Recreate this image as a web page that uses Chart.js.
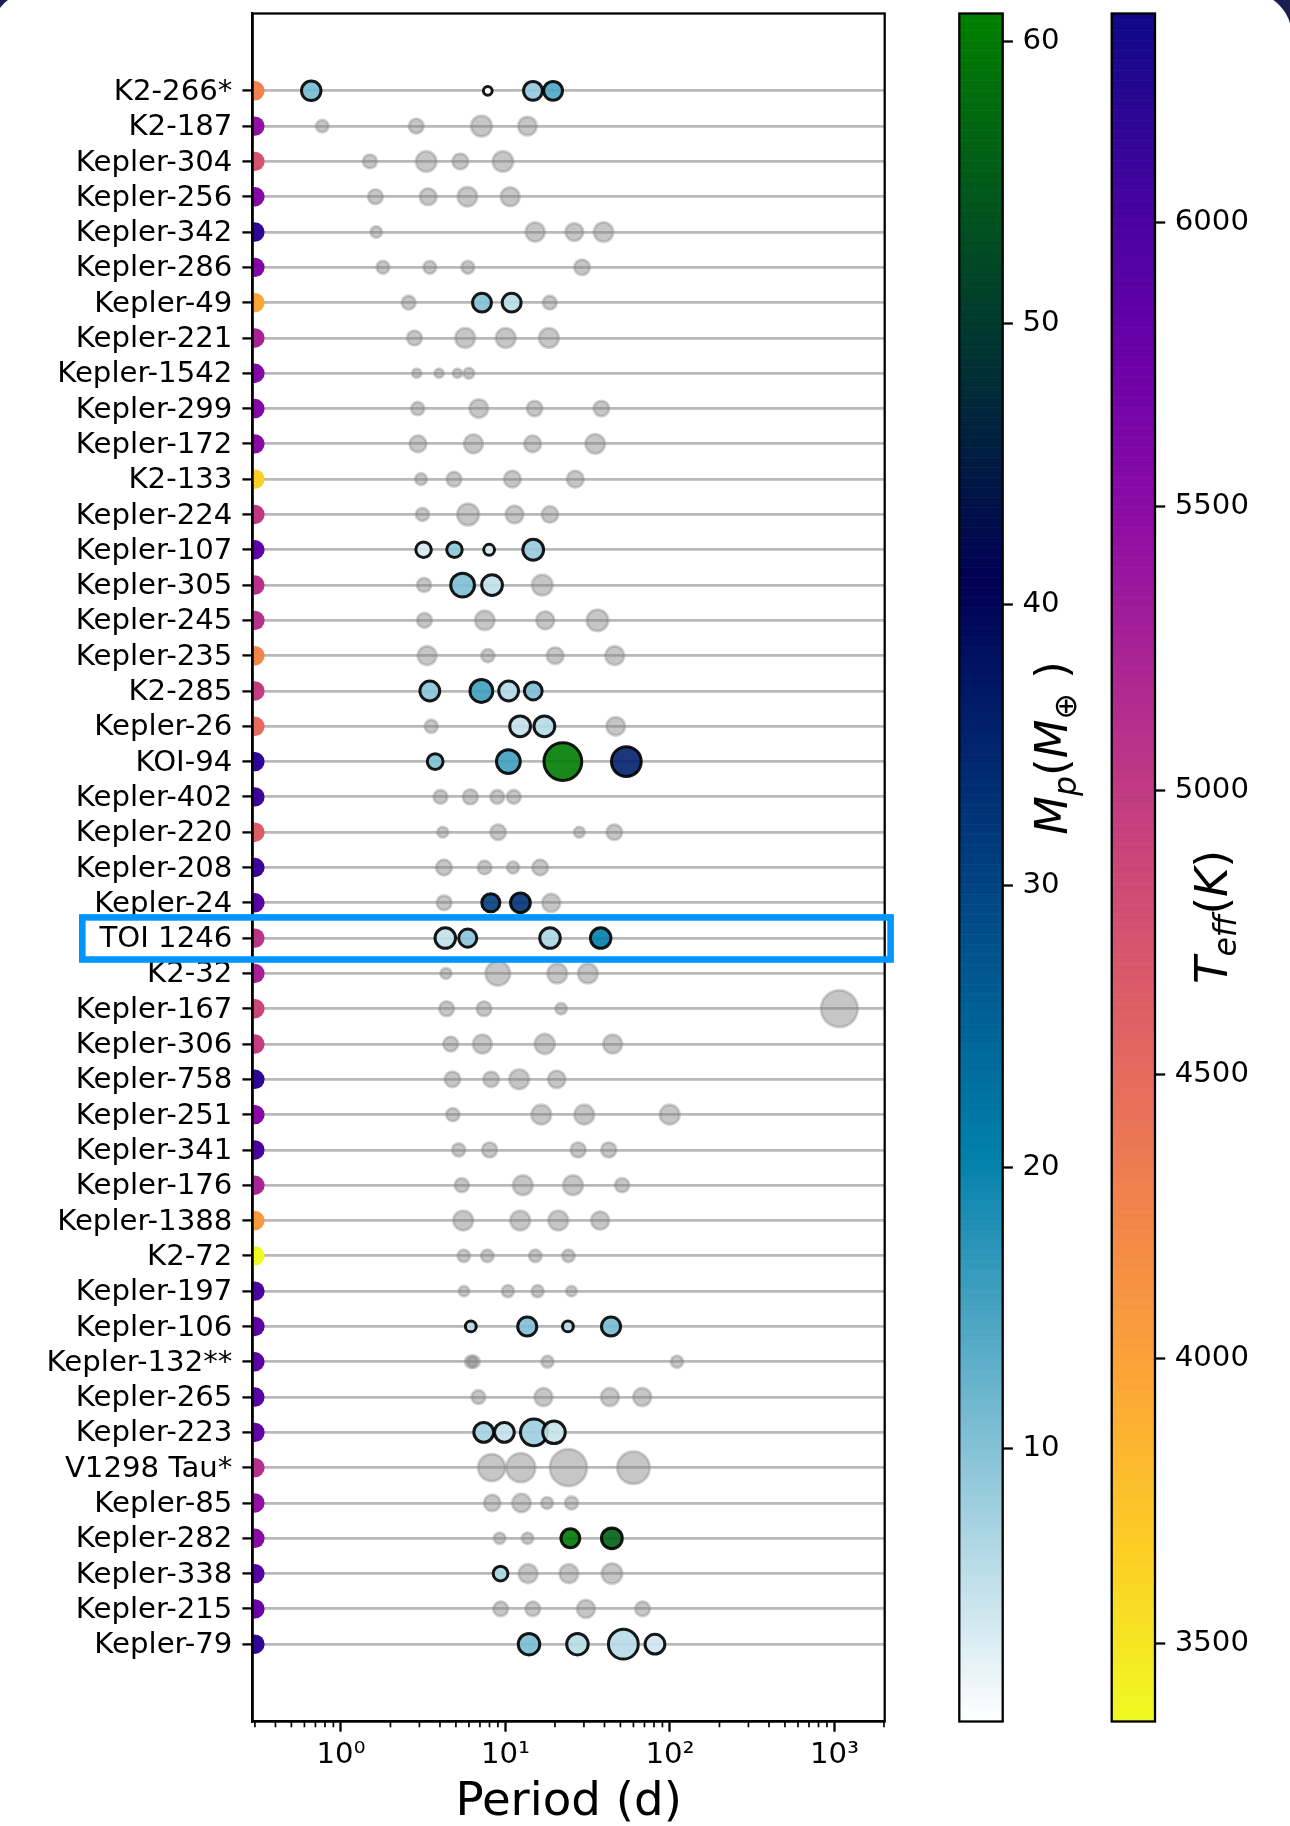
<!DOCTYPE html>
<html>
<head>
<meta charset="utf-8">
<script src="https://cdn.jsdelivr.net/npm/chart.js@4.4.1/dist/chart.umd.min.js"></script>
<style>
  html, body { margin: 0; padding: 0; width: 1290px; height: 1826px; overflow: hidden; background: #1b1f4f; }
  #sheet { position: absolute; left: -8px; top: -8px; width: 1300px; height: 1900px; background: #fff; border-radius: 40px 44px 0 0; }
  canvas { position: absolute; top: 0; }
</style>
</head>
<body>
<div id="sheet"></div>
<canvas id="systems" width="940" height="1826" style="left:0px"></canvas>
<canvas id="massBar" width="160" height="1826" style="left:940px"></canvas>
<canvas id="teffBar" width="190" height="1826" style="left:1100px"></canvas>
<script>
// ---- Multi-planet systems: orbital periods, radii (R_earth), masses (M_earth) ----
const systemNames = [
  'K2-266*', 'K2-187', 'Kepler-304', 'Kepler-256', 'Kepler-342', 'Kepler-286', 'Kepler-49',
  'Kepler-221', 'Kepler-1542', 'Kepler-299', 'Kepler-172', 'K2-133', 'Kepler-224', 'Kepler-107',
  'Kepler-305', 'Kepler-245', 'Kepler-235', 'K2-285', 'Kepler-26', 'KOI-94', 'Kepler-402',
  'Kepler-220', 'Kepler-208', 'Kepler-24', 'TOI 1246', 'K2-32', 'Kepler-167', 'Kepler-306',
  'Kepler-758', 'Kepler-251', 'Kepler-341', 'Kepler-176', 'Kepler-1388', 'K2-72', 'Kepler-197',
  'Kepler-106', 'Kepler-132**', 'Kepler-265', 'Kepler-223', 'V1298 Tau*', 'Kepler-85',
  'Kepler-282', 'Kepler-338', 'Kepler-215', 'Kepler-79'
];

const starTeff = [
  4285, 5438, 4731, 5551, 6175, 5580, 3974,
  5243, 5564, 5574, 5526, 3655, 5018, 5854,
  5100, 5100, 4255, 4975, 4500, 6182, 6090,
  4632, 6092, 5897, 5050, 5275, 4890, 4954,
  6183, 5526, 6012, 5232, 4078, 3360, 6004,
  5858, 5874, 5900, 5821, 5100, 5436,
  5499, 5923, 5739, 6174
];

const periods = [
  [0.66, 7.81, 14.70, 19.48],  [0.77, 2.87, 7.15, 13.61],   [1.50, 3.30, 5.32, 9.65],
  [1.62, 3.39, 5.87, 10.68],   [1.64, 15.17, 26.23, 39.46], [1.80, 3.47, 5.91, 29.22],
  [2.58, 7.20, 10.91, 18.60],  [2.80, 5.69, 10.04, 18.37],  [2.89, 3.95, 5.10, 5.99],
  [2.93, 6.89, 15.05, 38.29],  [2.94, 6.39, 14.63, 35.12],  [3.07, 4.87, 11.02, 26.58],
  [3.13, 5.93, 11.35, 18.64],  [3.18, 4.90, 7.96, 14.75],   [3.20, 5.49, 8.29, 16.74],
  [3.22, 7.49, 17.46, 36.28],  [3.34, 7.82, 20.06, 46.18],  [3.47, 7.14, 10.46, 14.76],
  [3.54, 12.28, 17.25, 46.83], [3.74, 10.42, 22.34, 54.32], [4.03, 6.12, 8.92, 11.24],
  [4.16, 9.03, 28.12, 45.90],  [4.23, 7.47, 11.13, 16.26],  [4.24, 8.15, 12.33, 18.99],
  [4.31, 5.90, 18.66, 37.92],  [4.35, 8.99, 20.66, 31.72],  [4.39, 7.41, 21.80, 1071],
  [4.65, 7.24, 17.33, 44.84],  [4.76, 8.19, 12.11, 20.50],  [4.79, 16.51, 30.13, 99.64],
  [5.20, 8.01, 27.67, 42.47],  [5.43, 12.76, 25.75, 51.17], [5.54, 12.29, 20.96, 37.63],
  [5.58, 7.76, 15.19, 24.16],  [5.60, 10.35, 15.68, 25.21], [6.16, 13.57, 23.98, 43.84],
  [6.18, 6.41, 18.01, 110.29], [6.85, 17.03, 43.13, 67.83], [7.38, 9.85, 14.89, 19.73],
  [8.25, 12.40, 24.14, 60.0],  [8.31, 12.51, 17.91, 25.22], [9.22, 13.64, 24.81, 44.35],
  [9.34, 13.73, 24.31, 44.43], [9.36, 14.67, 30.86, 68.16], [13.91, 27.40, 52.09, 81.07]
];

const radii = [
  [3.04, 0.63, 2.83, 2.83], [1.26, 1.76, 3.45, 2.74], [1.53, 3.36, 2.00, 3.36],
  [1.76, 2.26, 3.04, 2.83], [1.07, 2.92, 2.54, 3.04], [1.32, 1.32, 1.32, 1.93],
  [1.53, 2.83, 2.83, 1.53], [1.76, 3.13, 3.13, 3.13], [0.68, 0.68, 0.68, 0.95],
  [1.39, 2.74, 1.93, 1.93], [2.26, 2.83, 2.26, 3.04], [1.13, 1.76, 2.26, 2.26],
  [1.39, 3.79, 2.54, 2.18], [1.93, 1.93, 0.95, 3.45], [1.60, 4.51, 3.45, 3.45],
  [1.76, 3.04, 2.62, 3.69], [2.83, 1.39, 2.26, 2.83], [3.13, 4.14, 3.13, 2.54],
  [1.39, 3.45, 3.45, 2.74], [2.00, 4.51, 11.3, 7.05], [1.53, 1.83, 1.53, 1.53],
  [0.95, 1.93, 0.95, 1.93], [2.00, 1.53, 1.18, 2.00], [1.76, 2.62, 3.13, 2.62],
  [3.36, 2.62, 3.36, 3.36], [0.95, 4.78, 3.13, 3.13], [1.76, 1.76, 1.07, 10.7],
  [1.76, 2.83, 3.23, 2.83], [1.93, 1.93, 3.13, 2.45], [1.39, 3.13, 3.13, 3.13],
  [1.39, 1.83, 1.83, 1.83], [1.60, 3.13, 3.13, 1.60], [3.13, 3.13, 3.13, 2.62],
  [1.26, 1.26, 1.26, 1.26], [0.90, 1.18, 1.18, 0.90], [0.95, 2.92, 0.95, 2.92],
  [1.18, 1.18, 1.18, 1.18], [1.53, 2.62, 2.62, 2.62], [3.13, 3.13, 5.71, 4.04],
  [5.84, 6.72, 10.9, 8.37], [2.18, 2.74, 1.13, 1.39], [1.07, 1.07, 2.83, 3.45],
  [1.76, 2.83, 2.83, 3.36], [1.76, 1.76, 2.62, 1.76], [3.69, 3.69, 7.05, 3.13]
];

// null = no measured mass
const masses = [
  [11.3, 0.3, 8.9, 14.3],    [null, null, null, null], [null, null, null, null],
  [null, null, null, null],  [null, null, null, null], [null, null, null, null],
  [null, 10.2, 6.0, null],   [null, null, null, null], [null, null, null, null],
  [null, null, null, null],  [null, null, null, null], [null, null, null, null],
  [null, null, null, null],  [3.5, 9.4, 3.8, 8.6],     [null, 10.6, 5.3, null],
  [null, null, null, null],  [null, null, null, null], [9.7, 15.7, 6.5, 10.7],
  [null, 5.1, 6.2, null],    [10.5, 15.6, 60.5, 35.5], [null, null, null, null],
  [null, null, null, null],  [null, null, null, null], [null, 31.0, 33.0, null],
  [5.0, 9.6, 6.8, 21.0],     [null, null, null, null], [null, null, null, null],
  [null, null, null, null],  [null, null, null, null], [null, null, null, null],
  [null, null, null, null],  [null, null, null, null], [null, null, null, null],
  [null, null, null, null],  [null, null, null, null], [6.0, 10.4, 6.0, 11.2],
  [null, null, null, null],  [null, null, null, null], [7.4, 5.1, 8.0, 4.8],
  [null, null, null, null],  [null, null, null, null], [null, null, 60.0, 56.0],
  [7.2, null, null, null],   [null, null, null, null], [10.9, 5.9, 6.0, 4.1]
];

const highlightSystem = 'TOI 1246';
const periodRange = [0.2905, 2020];
const starPeriod = 0.3;
const periodTicks = [1, 10, 100, 1000];
const massRange = [0.3, 61.0];
const massTicks = [10, 20, 30, 40, 50, 60];
const teffRange = [3362, 6367];
const teffTicks = [3500, 4000, 4500, 5000, 5500, 6000];

// ---- colour maps ----
function oceanR(t) {
  const x = 1 - Math.min(1, Math.max(0, t));
  return [Math.min(1, Math.max(0, 3 * x - 2)), Math.abs(3 * x - 1) / 2, x].map(c => Math.round(c * 255));
}
const plasmaStops = ['#0d0887', '#41049d', '#6a00a8', '#8f0da4', '#b12a90', '#cc4778',
                     '#e16462', '#f2844b', '#fca636', '#fcce25', '#f0f921'].map(h => [1, 3, 5].map(i => parseInt(h.substr(i, 2), 16)));
function plasmaR(t) {
  const u = (1 - Math.min(1, Math.max(0, t))) * (plasmaStops.length - 1);
  const i = Math.min(plasmaStops.length - 2, Math.floor(u));
  const f = u - i;
  return plasmaStops[i].map((c, k) => Math.round(c + (plasmaStops[i + 1][k] - c) * f));
}
const norm = (v, r) => (v - r[0]) / (r[1] - r[0]);
const massColor = (m, a) => { const c = oceanR(norm(m, massRange)); return `rgba(${c[0]},${c[1]},${c[2]},${a})`; };
const teffColor = (t, a) => { const c = plasmaR(norm(t, teffRange)); return `rgba(${c[0]},${c[1]},${c[2]},${a})`; };

// marker area grows with planet radius
const markerRadius = r => 5.65 * Math.sqrt(r) - 0.1;

const grayPoints = [], massPoints = [];
periods.forEach((row, i) => row.forEach((p, j) => {
  const pt = { x: p, y: i, r: radii[i][j], m: masses[i][j] };
  (pt.m === null ? grayPoints : massPoints).push(pt);
}));
const starPoints = systemNames.map((_, i) => ({ x: starPeriod, y: i, t: starTeff[i] }));

const TICK_FONT = 29.2, LABEL_FONT = 46.7, TICK_LEN = 10.2, TICK_W = 2.3;
Chart.defaults.font.family = "'DejaVu Sans'";
Chart.defaults.color = '#000';

const SUP = { 0: '\u2070', 1: '\u00B9', 2: '\u00B2', 3: '\u00B3' };
const minorTicks = [];
for (let d = -1; d <= 3; d++) for (let k = 2; k <= 9; k++) {
  const v = k * Math.pow(10, d);
  if (v >= periodRange[0] && v <= periodRange[1]) minorTicks.push(v);
}

const framePlugin = {
  id: 'frame',
  afterDraw(chart) {
    const { ctx, chartArea: a, scales } = chart;
    ctx.save();
    // minor ticks of the log axis
    ctx.strokeStyle = '#000';
    ctx.lineWidth = 1.7;
    minorTicks.forEach(v => {
      const x = scales.x.getPixelForValue(v);
      ctx.beginPath(); ctx.moveTo(x, a.bottom); ctx.lineTo(x, a.bottom + 5.8); ctx.stroke();
    });
    // box around the axes
    ctx.lineWidth = TICK_W;
    ctx.strokeRect(a.left, a.top, a.right - a.left, a.bottom - a.top);
    // highlighted system
    const yc = scales.y.getPixelForValue(systemNames.indexOf(highlightSystem));
    ctx.strokeStyle = '#0096ff';
    ctx.lineWidth = 6.6;
    ctx.strokeRect(82.3, yc - 20.7, 808.3, 42.1);
    ctx.restore();
  }
};

new Chart(document.getElementById('systems'), {
  type: 'scatter',
  data: {
    datasets: [
      {
        data: grayPoints,
        pointBackgroundColor: 'rgba(128,128,128,0.45)',
        pointBorderColor: 'rgba(128,128,128,0.35)',
        pointBorderWidth: 2.8,
        pointRadius: c => c.raw ? markerRadius(c.raw.r) : 3
      },
      {
        data: massPoints,
        pointBackgroundColor: c => c.raw ? massColor(c.raw.m, 0.9) : '#fff',
        pointBorderColor: 'rgba(0,0,0,0.9)',
        pointBorderWidth: 3,
        pointRadius: c => c.raw ? markerRadius(c.raw.r) : 3
      },
      {
        data: starPoints,
        pointBackgroundColor: c => c.raw ? teffColor(c.raw.t, 1) : '#fff',
        pointBorderWidth: 0,
        pointRadius: 9.7,
        clip: 0
      }
    ]
  },
  options: {
    responsive: false, animation: false, events: [], devicePixelRatio: 1,
    layout: { autoPadding: false, padding: { left: 0, top: 13.5, right: 55.3, bottom: 0 } },
    plugins: { legend: { display: false }, tooltip: { enabled: false } },
    scales: {
      x: {
        type: 'logarithmic', min: periodRange[0], max: periodRange[1],
        afterBuildTicks: s => { s.ticks = periodTicks.map(v => ({ value: v })); },
        afterFit: s => { s.height = 104.5; s.paddingLeft = 0; s.paddingRight = 0; },
        ticks: {
          autoSkip: false, maxRotation: 0, padding: 6, color: '#000',
          font: { size: TICK_FONT },
          callback: v => '10' + SUP[Math.round(Math.log10(v))]
        },
        grid: { drawOnChartArea: false, drawTicks: true, tickLength: TICK_LEN, tickColor: '#000', tickWidth: TICK_W },
        border: { display: true, color: '#000', width: TICK_W },
        title: { display: true, text: 'Period (d)', color: '#000', font: { size: LABEL_FONT, lineHeight: 1 }, padding: { top: 0, bottom: 0 } }
      },
      y: {
        type: 'linear', reverse: true, min: -2.19, max: 46.19,
        afterBuildTicks: s => { s.ticks = systemNames.map((_, i) => ({ value: i })); },
        afterFit: s => { s.width = 252.6; s.paddingTop = 0; s.paddingBottom = 0; },
        ticks: {
          autoSkip: false, padding: 10, labelOffset: 1.5, color: '#000',
          font: { size: TICK_FONT },
          callback: v => systemNames[v]
        },
        grid: { color: 'rgba(128,128,128,0.55)', lineWidth: 2.8, drawTicks: true, tickLength: TICK_LEN, tickColor: '#000', tickWidth: TICK_W },
        border: { display: true, color: '#000', width: TICK_W }
      }
    }
  },
  plugins: [framePlugin]
});

// ---- colour bars ----
function drawMathLabel(ctx, parts, bx, cy, size) {
  const fontOf = p => `${p.it ? 'italic ' : ''}${p.sub ? size * 0.7 : size}px 'DejaVu Sans'`;
  ctx.save();
  ctx.translate(bx, cy);
  ctx.rotate(-Math.PI / 2);
  ctx.fillStyle = '#000';
  ctx.textBaseline = 'alphabetic';
  let total = 0;
  parts.forEach(p => { ctx.font = fontOf(p); total += ctx.measureText(p.s).width; });
  let x = -total / 2;
  parts.forEach(p => {
    ctx.font = fontOf(p);
    ctx.fillText(p.s, x, p.sub ? size * 0.2 : 0);
    x += ctx.measureText(p.s).width;
  });
  ctx.restore();
}

function colorBar(id, range, ticks, colorFn, padLeft, axisWidth, label) {
  const barPlugin = {
    id: 'bar_' + id,
    beforeDatasetsDraw(chart) {
      const { ctx, chartArea: a, scales: { y } } = chart;
      const steps = 512, dv = (range[1] - range[0]) / steps;
      ctx.save();
      for (let k = 0; k < steps; k++) {
        const v0 = range[0] + k * dv, v1 = v0 + dv;
        const y0 = y.getPixelForValue(v0), y1 = y.getPixelForValue(v1);
        ctx.fillStyle = colorFn(v0 + dv / 2);
        ctx.fillRect(a.left, y1, a.right - a.left, y0 - y1 + 0.6);
      }
      ctx.strokeStyle = '#000';
      ctx.lineWidth = TICK_W;
      ctx.strokeRect(a.left, a.top, a.right - a.left, a.bottom - a.top);
      ctx.restore();
    },
    afterDraw(chart) {
      drawMathLabel(chart.ctx, label.parts, label.x, label.y, 45);
    }
  };
  return new Chart(document.getElementById(id), {
    type: 'scatter',
    data: { datasets: [] },
    options: {
      responsive: false, animation: false, events: [], devicePixelRatio: 1,
      layout: { autoPadding: false, padding: { left: padLeft, top: 13.5, right: 0, bottom: 104.5 } },
      plugins: { legend: { display: false }, tooltip: { enabled: false } },
      scales: {
        x: { display: false, min: 0, max: 1 },
        y: {
          position: 'right', min: range[0], max: range[1],
          afterBuildTicks: s => { s.ticks = ticks.map(v => ({ value: v })); },
          afterFit: s => { s.width = axisWidth; s.paddingTop = 0; s.paddingBottom = 0; },
          ticks: { autoSkip: false, padding: 9.5, color: '#000', font: { size: TICK_FONT }, callback: v => String(v) },
          grid: { drawOnChartArea: false, drawTicks: true, tickLength: TICK_LEN, tickColor: '#000', tickWidth: TICK_W },
          border: { display: false }
        }
      }
    },
    plugins: [barPlugin]
  });
}

colorBar('massBar', massRange, massTicks, v => massColor(v, 1), 19.3, 97.3, {
  x: 127, y: 748,
  parts: [{ s: 'M', it: true }, { s: 'p', it: true, sub: true }, { s: '(' }, { s: 'M', it: true },
          { s: '\u2295', sub: true }, { s: ' )' }]
});
colorBar('teffBar', teffRange, teffTicks, v => teffColor(v, 1), 11.7, 135, {
  x: 127, y: 917,
  parts: [{ s: 'T', it: true }, { s: 'eff', it: true, sub: true }, { s: '(' }, { s: 'K', it: true }, { s: ')' }]
});
</script>
</body>
</html>
